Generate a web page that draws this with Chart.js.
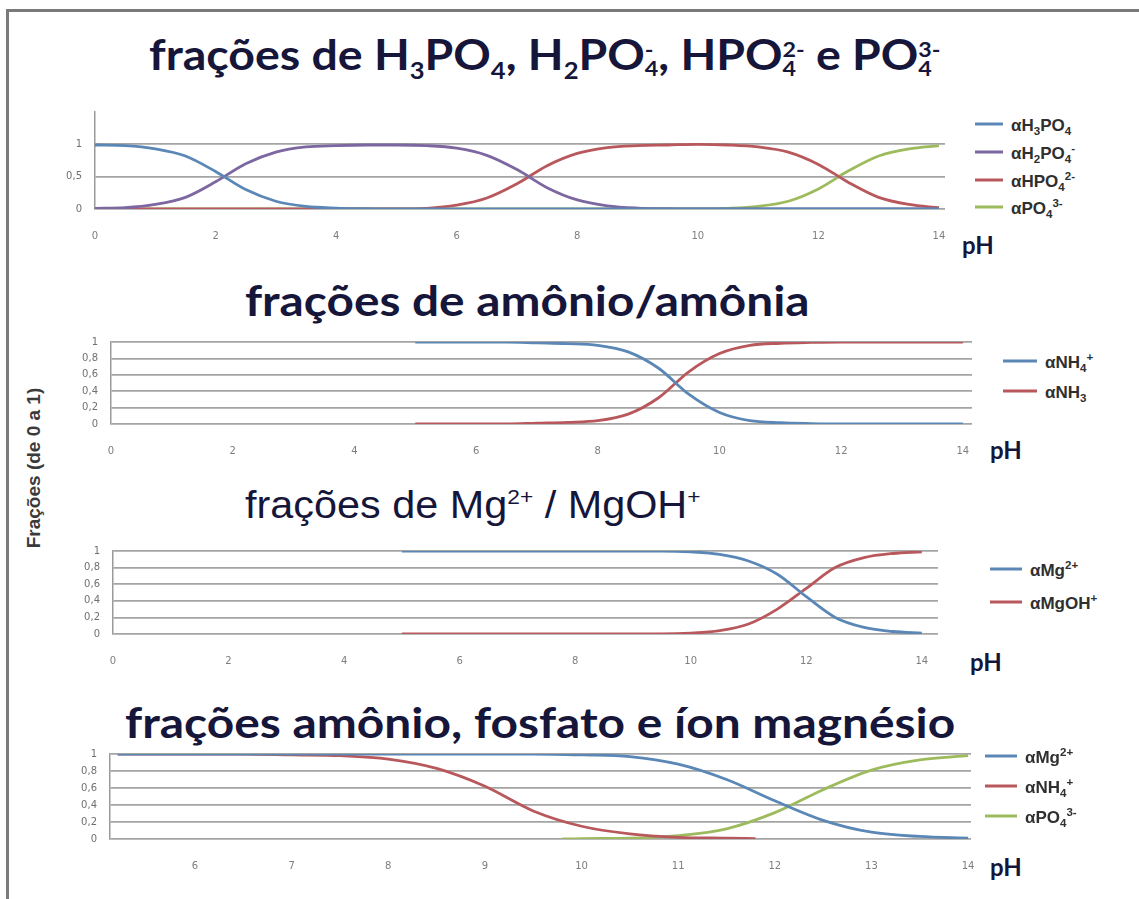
<!DOCTYPE html>
<html lang="pt">
<head>
<meta charset="UTF-8">
<title>Frações</title>
<script src="https://cdn.jsdelivr.net/npm/chart.js"></script>
<style>
    body {
        margin: 0;
        width: 1139px;
        height: 899px;
        background: #fff;
        position: relative;
        overflow: hidden;
        font-family: "Liberation Sans", Arial, sans-serif;
    }
    #frame {
        position: absolute;
        left: 6px;
        top: 9px;
        width: 1200px;
        height: 950px;
        border-left: 3px solid #7a7a7a;
        border-top: 3px solid #7a7a7a;
    }
    canvas { position: absolute; }
    .title {
        position: absolute;
        white-space: nowrap;
        color: #16163a;
        font-family: Lato, sans-serif;
        font-weight: 700;
        font-size: 42px;
        line-height: 1;
        transform-origin: 0 50%;
    }
    .title.arial { font-family: "Liberation Sans", Arial, sans-serif; font-weight: 400; font-size: 38px; }
    .title sub, .title sup { font-size: 0.55em; line-height: 0; }
    .ss {
        display: inline-block;
        font-size: 0.5em;
        line-height: 0.9;
        vertical-align: -0.3em;
        text-align: left;
    }
    .ph {
        position: absolute;
        font-family: Lato, sans-serif;
        font-weight: 700;
        font-size: 24px;
        color: #16163a;
        line-height: 1;
    }
    .ytitle {
        position: absolute;
        left: 34px;
        top: 468px;
        transform: translate(-50%, -50%) rotate(-90deg);
        white-space: nowrap;
        font-weight: 700;
        font-size: 19px;
        color: #3a3a3a;
    }
    .legend { position: absolute; }
    .legend .row {
        position: absolute;
        left: 0;
        white-space: nowrap;
        font-weight: 700;
        font-size: 17px;
        line-height: 1;
        color: #2f2f2f;
        transform: translateY(-50%);
    }
    .legend .sw { display: inline-block; height: 3px; margin-right: 8px; vertical-align: 0.3em; }
    .legend sub, .legend sup { font-size: 0.68em; line-height: 0; }
</style>
</head>
<body>
<div id="frame"></div>
<div class="ytitle">Frações (de 0 a 1)</div>

<div class="title" id="t1" data-cx="545" data-cy="55" data-w="792">frações de H<sub>3</sub>PO<sub>4</sub>, H<sub>2</sub>PO<span class="ss">-<br>4</span>, HPO<span class="ss">2-<br>4</span> e PO<span class="ss">3-<br>4</span></div>
<div class="title" id="t2" data-cx="527" data-cy="300" data-w="565">frações de amônio/amônia</div>
<div class="title arial" id="t3" data-cx="472" data-cy="505" data-w="455">frações de Mg<sup>2+</sup> / MgOH<sup>+</sup></div>
<div class="title" id="t4" data-cx="540" data-cy="722" data-w="830">frações amônio, fosfato e íon magnésio</div>

<div class="ph" style="left:962px;top:233px">pH</div>
<div class="ph" style="left:990px;top:438px">pH</div>
<div class="ph" style="left:970px;top:650px">pH</div>
<div class="ph" style="left:990px;top:855px">pH</div>

<script>
// colours (Excel-like, faded)
const BLUE = '#5a87b6', RED = '#b9585c', PURPLE = '#7d67a0', GREEN = '#9dbb5c';

// ---- panel 1: fosfato ----
const ph1 = [0, 0.5, 1, 1.5, 2, 2.5, 3, 3.5, 4, 4.5, 5, 5.5, 6, 6.5, 7, 7.5, 8, 8.5, 9, 9.5, 10, 10.5, 11, 11.5, 12, 12.5, 13, 13.5, 14];
const aH3PO4 = [0.99, 0.98, 0.93, 0.82, 0.58, 0.30, 0.12, 0.04, 0.015, 0.005, 0, 0, 0, 0, 0, 0, 0, 0, 0, 0, 0, 0, 0, 0, 0, 0, 0, 0, 0];
const aH2PO4 = [0.01, 0.02, 0.07, 0.18, 0.42, 0.70, 0.88, 0.96, 0.98, 0.99, 0.99, 0.98, 0.94, 0.83, 0.61, 0.33, 0.14, 0.05, 0.015, 0.005, 0, 0, 0, 0, 0, 0, 0, 0, 0];
const aHPO4 = [0, 0, 0, 0, 0, 0, 0, 0, 0, 0, 0, 0.01, 0.06, 0.17, 0.39, 0.67, 0.86, 0.95, 0.98, 0.99, 1, 0.99, 0.96, 0.88, 0.69, 0.41, 0.18, 0.07, 0.02];
const aPO4 = [0, 0, 0, 0, 0, 0, 0, 0, 0, 0, 0, 0, 0, 0, 0, 0, 0, 0, 0, 0, 0, 0.01, 0.04, 0.12, 0.31, 0.59, 0.82, 0.93, 0.98];
const legend1 = ['αH<sub>3</sub>PO<sub>4</sub>', 'αH<sub>2</sub>PO<sub>4</sub><sup>-</sup>', 'αHPO<sub>4</sub><sup>2-</sup>', 'αPO<sub>4</sub><sup>3-</sup>'];

// ---- panel 2: amônio / amônia ----
const ph2 = [5, 5.5, 6, 6.5, 7, 7.5, 8, 8.5, 9, 9.5, 10, 10.5, 11, 11.5, 12, 12.5, 13, 13.5, 14];
const aNH4 = [1, 1, 1, 1, 0.99, 0.98, 0.96, 0.88, 0.68, 0.36, 0.14, 0.04, 0.015, 0.005, 0, 0, 0, 0, 0];
const aNH3 = [0, 0, 0, 0, 0.01, 0.02, 0.04, 0.12, 0.32, 0.64, 0.86, 0.96, 0.985, 0.995, 1, 1, 1, 1, 1];
const legend2 = ['αNH<sub>4</sub><sup>+</sup>', 'αNH<sub>3</sub>'];

// ---- panel 3: Mg2+ / MgOH+ ----
const ph3 = [5, 5.5, 6, 6.5, 7, 7.5, 8, 8.5, 9, 9.5, 10, 10.5, 11, 11.5, 12, 12.5, 13, 13.5, 14];
const aMg = [1, 1, 1, 1, 1, 1, 1, 1, 1, 1, 0.99, 0.96, 0.88, 0.72, 0.45, 0.20, 0.08, 0.03, 0.01];
const aMgOH = [0, 0, 0, 0, 0, 0, 0, 0, 0, 0, 0.01, 0.04, 0.12, 0.30, 0.55, 0.80, 0.92, 0.97, 0.99];
const legend3 = ['αMg<sup>2+</sup>', 'αMgOH<sup>+</sup>'];

// ---- panel 4: amônio, fosfato e íon magnésio ----
const ph4Mg = [5.2, 6, 7, 8, 9, 9.5, 10, 10.5, 11, 11.5, 12, 12.5, 13, 13.5, 14];
const bMg = [1, 1, 1, 1, 1, 1, 0.99, 0.97, 0.88, 0.70, 0.45, 0.22, 0.08, 0.03, 0.01];
const ph4NH4 = [5.2, 6, 6.5, 7, 7.5, 8, 8.5, 9, 9.5, 10, 10.5, 11, 11.5, 11.8];
const bNH4 = [1, 1, 1, 0.99, 0.98, 0.94, 0.83, 0.62, 0.33, 0.15, 0.06, 0.02, 0.01, 0.005];
const ph4PO4 = [9.8, 10, 10.5, 11, 11.5, 12, 12.5, 13, 13.5, 14];
const bPO4 = [0, 0.005, 0.01, 0.04, 0.12, 0.31, 0.58, 0.81, 0.93, 0.98];
const legend4 = ['αMg<sup>2+</sup>', 'αNH<sub>4</sub><sup>+</sup>', 'αPO<sub>4</sub><sup>3-</sup>'];

// tick labels
const xTicks0to14 = [0, 2, 4, 6, 8, 10, 12, 14];
const xTicks6to14 = [6, 7, 8, 9, 10, 11, 12, 13, 14];
const yTicksHalf = [0, 0.5, 1];
const yTicksFifth = [0, 0.2, 0.4, 0.6, 0.8, 1];

function pts(xs, ys) {
    return xs.map((x, i) => ({ x: x, y: ys[i] }));
}

function ds(label, xs, ys, color) {
    return {
        label: label,
        data: pts(xs, ys),
        borderColor: color,
        backgroundColor: color,
        borderWidth: 2.8,
        pointRadius: 0,
        cubicInterpolationMode: 'monotone',
        fill: false
    };
}

const YW = 60, XH = 34, PT = 12, PR = 20;

// box: px of plot left/right/top/bottom
function panel(id, box, xr, xt, yr, yt, sets) {
    const c = document.createElement('canvas');
    const w = box.R - box.L + YW + PR;
    const h = box.B - box.T + PT + XH;
    c.width = w; c.height = h;
    c.style.left = (box.L - YW) + 'px';
    c.style.top = (box.T - PT) + 'px';
    c.style.width = w + 'px';
    c.style.height = h + 'px';
    document.body.appendChild(c);
    new Chart(c, {
        type: 'line',
        data: { datasets: sets },
        options: {
            responsive: false,
            animation: false,
            layout: { padding: { top: PT, right: PR, left: 0, bottom: 0 } },
            plugins: { legend: { display: false }, tooltip: { enabled: false } },
            scales: {
                x: {
                    type: 'linear',
                    min: xr[0], max: xr[1],
                    afterFit: s => { s.height = XH; },
                    afterBuildTicks: s => { s.ticks = xt.map(v => ({ value: v })); },
                    grid: { display: false },
                    border: { display: false },
                    ticks: {
                        color: '#7e7e7e', padding: 13, maxRotation: 0,
                        font: { size: 10, family: 'DejaVu Sans' },
                        callback: v => String(v)
                    }
                },
                y: {
                    min: yr[0], max: yr[1],
                    afterFit: s => { s.width = YW; },
                    afterBuildTicks: s => { s.ticks = yt.map(v => ({ value: v })); },
                    grid: { color: '#a4a4a4', lineWidth: 1.7, drawTicks: false },
                    border: { display: true, color: '#9a9a9a', width: 1.5 },
                    ticks: {
                        color: '#707070', padding: 13,
                        font: { size: 10, family: 'DejaVu Sans' },
                        callback: v => String(v).replace('.', ',')
                    }
                }
            }
        }
    });
}

function legend(left, rows, labels, colors, lineW) {
    const box = document.createElement('div');
    box.className = 'legend';
    box.style.left = left + 'px';
    box.style.top = '0px';
    labels.forEach((lab, i) => {
        const r = document.createElement('div');
        r.className = 'row';
        r.style.top = rows[i] + 'px';
        r.innerHTML = '<span class="sw" style="width:' + lineW + 'px;background:' + colors[i] + '"></span><span>' + lab + '</span>';
        box.appendChild(r);
    });
    document.body.appendChild(box);
}

panel('p1', { L: 95, R: 945, T: 105, B: 209 }, [0, 14.1], xTicks0to14, [0, 1.5], yTicksHalf, [
    ds('αH3PO4', ph1, aH3PO4, BLUE),
    ds('αH2PO4-', ph1, aH2PO4, PURPLE),
    ds('αHPO4 2-', ph1, aHPO4, RED),
    ds('αPO4 3-', ph1, aPO4, GREEN)
]);
panel('p2', { L: 111, R: 972, T: 335, B: 424 }, [0, 14.15], xTicks0to14, [0, 1], yTicksFifth, [
    ds('αNH4+', ph2, aNH4, BLUE),
    ds('αNH3', ph2, aNH3, RED)
]);
panel('p3', { L: 113, R: 938, T: 544, B: 634 }, [0, 14.28], xTicks0to14, [0, 1], yTicksFifth, [
    ds('αMg2+', ph3, aMg, BLUE),
    ds('αMgOH+', ph3, aMgOH, RED)
]);
panel('p4', { L: 110, R: 971, T: 747, B: 839 }, [5.12, 14.03], xTicks6to14, [0, 1], yTicksFifth, [
    ds('αMg2+', ph4Mg, bMg, BLUE),
    ds('αNH4+', ph4NH4, bNH4, RED),
    ds('αPO4 3-', ph4PO4, bPO4, GREEN)
]);

legend(975, [125, 153, 181, 208], legend1, [BLUE, PURPLE, RED, GREEN], 28);
legend(1003, [362, 392], legend2, [BLUE, RED], 34);
legend(990, [570, 603], legend3, [BLUE, RED], 32);
legend(985, [757, 787, 817], legend4, [BLUE, RED, GREEN], 32);

// fit titles to their width in the reference
document.querySelectorAll('.title').forEach(t => {
    const w = t.offsetWidth, h = t.offsetHeight;
    const k = (+t.dataset.w) / w;
    t.style.left = (+t.dataset.cx - t.dataset.w / 2) + 'px';
    t.style.top = (+t.dataset.cy - h / 2) + 'px';
    t.style.transform = 'scaleX(' + k.toFixed(3) + ')';
});
</script>
</body>
</html>
